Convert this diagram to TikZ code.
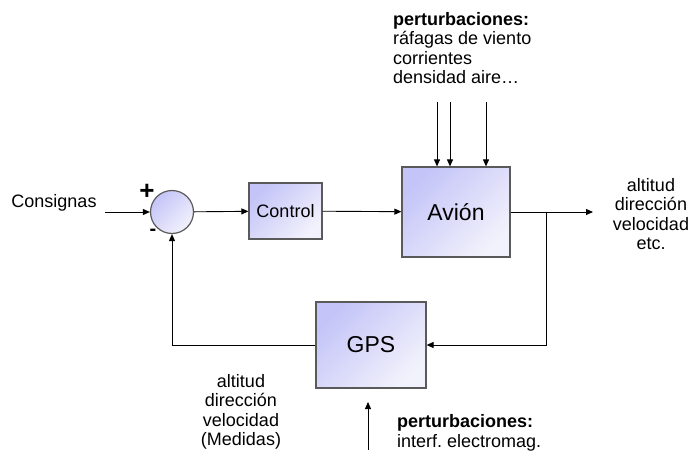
\documentclass[tikz,border=0pt]{standalone}
\usepackage{fontspec}
\setmainfont{Liberation Sans}
\usetikzlibrary{arrows.meta}
\definecolor{boxdark}{RGB}{196,196,248}
\definecolor{boxlight}{RGB}{242,242,252}
\definecolor{boxline}{RGB}{90,90,90}
\tikzset{
  bloque/.style={draw=boxline, line width=1.2pt, top color=boxdark,
    bottom color=boxlight, shading angle=45, inner sep=0pt},
  flecha/.style={-{Triangle[length=7pt,width=6pt]}, line width=0.9pt},
  texto/.style={align=center, font=\fontsize{18}{19.5}\selectfont, inner sep=0pt}
}
\begin{document}
\begin{tikzpicture}[x=1pt,y=-1pt]
  \useasboundingbox (0,0) rectangle (688,458);
  % bloques
  \node[bloque, circle, minimum size=43pt] (suma) at (172,212) {};
  \node[bloque, minimum width=73pt, minimum height=56pt, texto] (control) at (285.5,211) {Control};
  \node[bloque, minimum width=108pt, minimum height=90pt, texto, font=\fontsize{23}{25}\selectfont] (avion) at (456,212) {Avión};
  \node[bloque, minimum width=110pt, minimum height=86pt, texto, font=\fontsize{23}{25}\selectfont] (gps) at (371,345) {GPS};
  % textos
  \node[texto] (consignas) at (54,203) {Consignas};
  \node[texto, font=\fontsize{26}{26}\bfseries] (mas) at (147,192) {+};
  \node[texto, font=\fontsize{20}{20}\bfseries] (menos) at (153,232) {-};
  \node[texto, align=left, anchor=west] (pertavion) at (393,48)
    {\textbf{perturbaciones:}\\ráfagas de viento\\corrientes\\densidad aire…};
  \node[texto] (salida) at (651,214) {altitud\\dirección\\velocidad\\etc.};
  \node[texto] (medidas) at (241,412) {altitud\\dirección\\velocidad\\(Medidas)};
  \node[texto, align=left, anchor=west] (pertgps) at (397,433)
    {\textbf{perturbaciones:}\\interf.\ electromag.};
  % conexiones
  \coordinate (entrada) at (105,212);
  \coordinate (fin) at (593,212);
  \coordinate (rama) at (546,212);
  \coordinate (ruido) at (368,450);
  \coordinate (ruidofin) at (368,402);
  \draw[flecha] (entrada) -- (suma);
  \draw[flecha] (suma) -- (control);
  \draw[flecha] (control) -- (avion);
  \draw[flecha] (avion) -- (fin);
  \foreach \px in {437,450,486}
    \draw[flecha] (\px,102) -- (\px,0 |- avion.north);
  \draw[flecha] (rama) |- (gps);
  \draw[flecha] (gps) -| (suma);
  \draw[flecha] (ruido) -- (ruidofin);
\end{tikzpicture}
\end{document}
